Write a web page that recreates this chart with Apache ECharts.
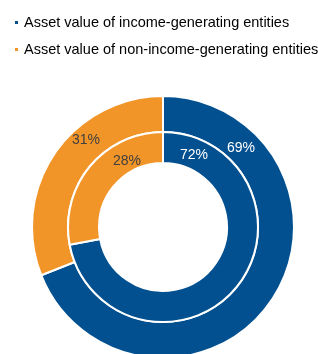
<!DOCTYPE html>
<html>
<head>
<meta charset="utf-8">
<script src="https://cdn.jsdelivr.net/npm/echarts@6/dist/echarts.min.js"></script>
<style>
  html, body { margin: 0; padding: 0; background: #fff; }
  #chart { width: 318px; height: 354px; }
</style>
</head>
<body>
<div id="chart"></div>
<script>
// categories and values (percent)
const categories = ['Asset value of income-generating entities', 'Asset value of non-income-generating entities'];
const outerValues = [69, 31];
const innerValues = [72, 28];

const colors = ['#02508F', '#F29528'];
const labelColors = ['#ffffff', '#404040'];
const center = [163, 227];
// label spots relative to the centre, [series][dataIndex] -> [dx, dy]
const labelSpots = [
  [[78, -79], [-77, -87]],
  [[31, -72], [-36, -66]]
];

const chart = echarts.init(document.getElementById('chart'));

function ringData(values) {
  return values.map((v, i) => ({
    name: categories[i],
    value: v,
    itemStyle: { color: colors[i] },
    label: { color: labelColors[i] }
  }));
}

function spotLayout(seriesIdx) {
  return function (params) {
    const s = labelSpots[seriesIdx][params.dataIndex];
    return {
      x: center[0] + s[0],
      y: center[1] + s[1],
      align: 'center',
      verticalAlign: 'middle'
    };
  };
}

const labelBase = {
  show: true,
  position: 'inside',
  formatter: '{c}%',
  fontFamily: 'Arial, "Liberation Sans", sans-serif',
  fontSize: 14
};

const option = {
  animation: false,
  legend: {
    orient: 'vertical',
    left: 8,
    top: 10,
    icon: 'rect',
    itemWidth: 5,
    itemHeight: 5,
    itemGap: 12,
    selectedMode: false,
    textStyle: {
      fontFamily: 'Arial, "Liberation Sans", sans-serif',
      fontSize: 14.5,
      color: '#000'
    },
    data: categories
  },
  series: [
    {
      name: 'outer',
      type: 'pie',
      center: center,
      radius: [95, 131],
      startAngle: 90,
      clockwise: true,
      itemStyle: { borderColor: '#fff', borderWidth: 2 },
      label: labelBase,
      labelLine: { show: false },
      labelLayout: spotLayout(0),
      emphasis: { disabled: true },
      data: ringData(outerValues)
    },
    {
      name: 'inner',
      type: 'pie',
      center: center,
      radius: [64, 95],
      startAngle: 90,
      clockwise: true,
      itemStyle: { borderColor: '#fff', borderWidth: 2 },
      label: labelBase,
      labelLine: { show: false },
      labelLayout: spotLayout(1),
      emphasis: { disabled: true },
      data: ringData(innerValues)
    }
  ]
};

chart.setOption(option);
</script>
</body>
</html>
